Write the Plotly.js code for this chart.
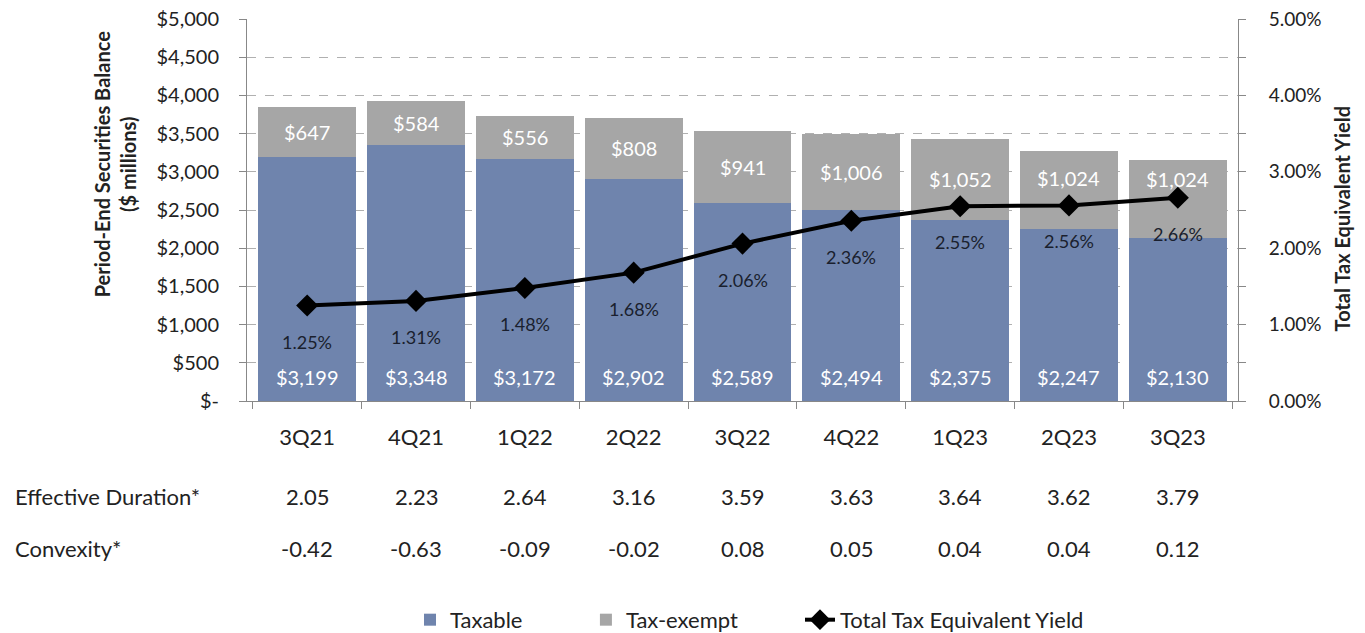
<!DOCTYPE html>
<html>
<head>
<meta charset="utf-8">
<script src="https://cdn.plot.ly/plotly-3.0.1.min.js"></script>
<style>html,body{margin:0;padding:0;background:#fff;}#chart{width:1365px;height:633px;}</style>
</head>
<body>
<div id="chart"></div>
<script>
const quarters = ["3Q21","4Q21","1Q22","2Q22","3Q22","4Q22","1Q23","2Q23","3Q23"];
const taxable = [3199,3348,3172,2902,2589,2494,2375,2247,2130];
const taxExempt = [647,584,556,808,941,1006,1052,1024,1024];
const yieldPct = [1.25,1.31,1.48,1.68,2.06,2.36,2.55,2.56,2.66];
const effectiveDuration = ["2.05","2.23","2.64","3.16","3.59","3.63","3.64","3.62","3.79"];
const convexity = ["-0.42","-0.63","-0.09","-0.02","0.08","0.05","0.04","0.04","0.12"];
const leftTickVals = [0,500,1000,1500,2000,2500,3000,3500,4000,4500,5000];
const leftTickText = ["$-","$500","$1,000","$1,500","$2,000","$2,500","$3,000","$3,500","$4,000","$4,500","$5,000"];

const FONT = "Lato, 'Open Sans', sans-serif";
const TXT = "#222222";
const fmtMoney = v => "$" + v.toLocaleString("en-US");

const traces = [
  {type:"bar", name:"Taxable", x:quarters, y:taxable, legend:"legend",
   marker:{color:"#6F84AD"}, hoverinfo:"skip"},
  {type:"bar", name:"Tax-exempt", x:quarters, y:taxExempt, legend:"legend2",
   marker:{color:"#A6A6A6"}, hoverinfo:"skip"},
  {type:"scatter", mode:"lines+markers", name:"Total Tax Equivalent Yield", x:quarters, legend:"legend3",
   y:yieldPct.map(v=>v/100), yaxis:"y2",
   line:{color:"#000000", width:4}, marker:{symbol:"diamond", size:17, color:"#000000"}, hoverinfo:"skip"}
];

// left axis is 0..5000, right axis 0..5% -> 1% equals 1000 on the left scale
const annotations = [];
quarters.forEach((q,i)=>{
  const top = taxable[i] + taxExempt[i];
  const mid = taxable[i] + taxExempt[i]/2;
  const marker = yieldPct[i] * 1000;
  // when the label would sit on the yield marker, lift it between marker and bar top
  const exemptY = Math.abs(mid - marker) < 250 ? (marker + top) / 2 : mid;
  annotations.push({x:q, y:exemptY, xref:"x", yref:"y", text:fmtMoney(taxExempt[i]), showarrow:false,
    yanchor:"middle", font:{color:"#ffffff", size:20, family:FONT}});
  annotations.push({x:q, y:0, xref:"x", yref:"y", text:fmtMoney(taxable[i]), showarrow:false,
    yanchor:"middle", yshift:24, font:{color:"#ffffff", size:20, family:FONT}});
  annotations.push({x:q, y:yieldPct[i]/100, xref:"x", yref:"y2", text:yieldPct[i].toFixed(2)+"%", showarrow:false,
    yanchor:"middle", yshift:-36, font:{color:"#1a1f2e", size:18, family:FONT}});
  annotations.push({x:q, y:-0.251, xref:"x", yref:"paper", text:effectiveDuration[i], showarrow:false,
    yanchor:"middle", font:{color:TXT, size:22, family:FONT}});
  annotations.push({x:q, y:-0.385, xref:"x", yref:"paper", text:convexity[i], showarrow:false,
    yanchor:"middle", font:{color:TXT, size:22, family:FONT}});
});
annotations.push({x:-0.236, y:-0.251, xref:"paper", yref:"paper", xanchor:"left", yanchor:"middle",
  text:"Effective Duration*", showarrow:false, font:{color:TXT, size:22, family:FONT}});
annotations.push({x:-0.236, y:-0.385, xref:"paper", yref:"paper", xanchor:"left", yanchor:"middle",
  text:"Convexity*", showarrow:false, font:{color:TXT, size:22, family:FONT}});
annotations.push({x:-0.133, y:0.62, xref:"paper", yref:"paper", xanchor:"center", yanchor:"middle",
  text:"<b>Period-End Securities Balance<br>($ millions)</b>", textangle:-90, showarrow:false,
  font:{color:TXT, size:20, family:FONT}});
annotations.push({x:1.105, y:0.478, xref:"paper", yref:"paper", xanchor:"center", yanchor:"middle",
  text:"<b>Total Tax Equivalent Yield</b>", textangle:-90, showarrow:false,
  font:{color:TXT, size:20, family:FONT}});

const legendBase = {orientation:"h", xanchor:"left", y:-0.573, yanchor:"middle",
  font:{size:22, family:FONT, color:TXT}, bgcolor:"rgba(0,0,0,0)"};

const layout = {
  width:1365, height:633,
  margin:{l:247, r:127, t:19, b:232, autoexpand:false},
  paper_bgcolor:"#ffffff", plot_bgcolor:"#ffffff",
  barmode:"stack", bargap:0.1,
  font:{family:FONT, color:TXT, size:18},
  showlegend:true,
  legend:Object.assign({}, legendBase, {x:0.1645}),
  legend2:Object.assign({}, legendBase, {x:0.342}),
  legend3:Object.assign({}, legendBase, {x:0.558}),
  xaxis:{type:"category", tickson:"boundaries", ticks:"outside", ticklen:7, tickcolor:"#888",
    showline:true, linecolor:"#888", linewidth:1, showgrid:false,
    ticklabelstandoff:17, tickfont:{size:22, family:FONT, color:TXT}},
  yaxis:{range:[0,5000], tickvals:leftTickVals, ticktext:leftTickText, ticks:"outside", ticklen:7,
    tickcolor:"#888", showline:true, linecolor:"#888", linewidth:1,
    showgrid:true, gridcolor:"#b0b0b0", griddash:"dash", gridwidth:1, zeroline:false,
    ticklabelstandoff:16, tickfont:{size:20, family:FONT, color:TXT}},
  yaxis2:{range:[0,0.05], overlaying:"y", side:"right", tickformat:".2%", dtick:0.01,
    ticks:"outside", ticklen:7, tickcolor:"#888", showline:true, linecolor:"#888", linewidth:1,
    showgrid:false, zeroline:false,
    minor:{dtick:0.005, ticks:"outside", ticklen:7, tickcolor:"#888", showgrid:false},
    ticklabelstandoff:19, tickfont:{size:19, family:FONT, color:TXT}},
  annotations:annotations
};

Plotly.newPlot("chart", traces, layout, {displayModeBar:false, staticPlot:true});
</script>
</body>
</html>
